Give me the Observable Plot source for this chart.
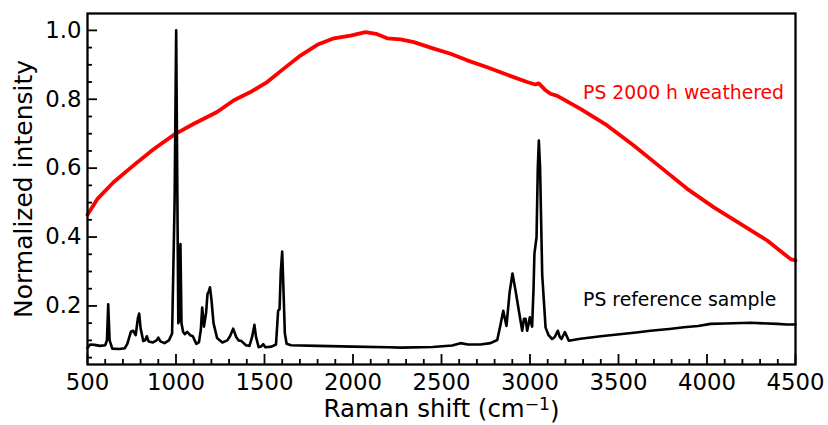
<!DOCTYPE html>
<html>
<head>
<meta charset="utf-8">
<script src="https://cdn.jsdelivr.net/npm/d3@7"></script>
<script src="https://cdn.jsdelivr.net/npm/@observablehq/plot@0.6"></script>
<style>
  html, body { margin: 0; padding: 0; background: white; }
  #chart { width: 828px; height: 425px; }
</style>
</head>
<body>
<div id="chart"></div>
<script>
// Reference PS spectrum: [Raman shift (cm^-1), normalized intensity]
const referenceSpectrum = [
  [500,0.078],[515,0.088],[540,0.087],[570,0.084],[600,0.086],[610,0.1],[617,0.205],[625,0.1],
  [640,0.076],[680,0.075],[710,0.077],[725,0.09],[745,0.125],[758,0.128],[772,0.115],[785,0.165],
  [792,0.178],[800,0.135],[815,0.098],[825,0.1],[835,0.112],[845,0.097],[870,0.094],[890,0.1],
  [900,0.108],[912,0.097],[935,0.092],[960,0.1],[978,0.12],[992,0.5],[1001,1.0],[1008,0.5],
  [1013,0.15],[1018,0.16],[1025,0.38],[1031,0.15],[1040,0.125],[1050,0.118],[1063,0.125],[1080,0.115],
  [1095,0.112],[1115,0.09],[1130,0.095],[1140,0.13],[1148,0.195],[1158,0.14],[1170,0.18],[1178,0.235],
  [1184,0.24],[1192,0.254],[1200,0.22],[1212,0.15],[1232,0.107],[1262,0.094],[1290,0.1],[1305,0.112],
  [1323,0.134],[1340,0.11],[1353,0.1],[1370,0.098],[1395,0.086],[1415,0.084],[1430,0.11],[1443,0.145],
  [1452,0.11],[1467,0.08],[1480,0.082],[1493,0.089],[1505,0.08],[1540,0.082],[1565,0.088],[1577,0.186],
  [1585,0.19],[1592,0.3],[1600,0.358],[1607,0.25],[1615,0.12],[1625,0.09],[1650,0.086],[1800,0.084],
  [2000,0.082],[2200,0.08],[2270,0.079],[2450,0.081],[2560,0.085],[2607,0.092],[2650,0.088],[2720,0.088],
  [2777,0.092],[2815,0.101],[2835,0.15],[2849,0.186],[2867,0.142],[2885,0.24],[2901,0.294],[2920,0.24],
  [2937,0.186],[2956,0.128],[2966,0.163],[2975,0.163],[2984,0.128],[2993,0.15],[2999,0.167],[3012,0.14],
  [3020,0.25],[3025,0.352],[3037,0.4],[3044,0.6],[3050,0.68],[3057,0.6],[3069,0.29],[3088,0.137],
  [3105,0.115],[3125,0.104],[3140,0.11],[3157,0.128],[3168,0.11],[3178,0.104],[3197,0.124],[3210,0.11],
  [3219,0.099],[3285,0.105],[3400,0.112],[3493,0.117],[3600,0.123],[3681,0.128],[3800,0.134],[3869,0.138],
  [3950,0.142],[4020,0.148],[4100,0.149],[4246,0.151],[4397,0.148],[4450,0.146],[4500,0.146]
];

// Weathered PS spectrum (fluorescence background)
const weatheredSpectrum = [
  [500,0.465],[555,0.51],[647,0.559],[760,0.608],[873,0.655],[992,0.698],[1101,0.729],[1232,0.763],
  [1327,0.797],[1421,0.821],[1515,0.85],[1609,0.889],[1703,0.927],[1798,0.958],[1892,0.977],[1986,0.985],
  [2071,0.995],[2130,0.99],[2193,0.977],[2268,0.974],[2344,0.966],[2456,0.947],[2551,0.932],[2645,0.913],
  [2758,0.893],[2871,0.871],[2984,0.85],[3030,0.843],[3050,0.846],[3088,0.826],[3116,0.816],[3154,0.81],
  [3285,0.772],[3436,0.724],[3586,0.666],[3737,0.603],[3888,0.54],[4039,0.486],[4189,0.438],[4340,0.39],
  [4472,0.336],[4500,0.332]
];

const annotations = [
  {x: 3300, y: 0.8, text: "PS 2000 h weathered", color: "#ff0000"},
  {x: 3300, y: 0.2, text: "PS reference sample", color: "#000000"}
];

const xMajorTicks = [500, 1000, 1500, 2000, 2500, 3000, 3500, 4000, 4500];
const xMinorTicks = d3.range(600, 4500, 100).filter(v => v % 500 !== 0);
const yMajorTicks = [0.2, 0.4, 0.6, 0.8, 1.0];
const yMinorTicks = [0.05, 0.1, 0.15, 0.25, 0.3, 0.35, 0.45, 0.5, 0.55, 0.65, 0.7, 0.75, 0.85, 0.9, 0.95];

const xLabel = "Raman shift (cm−1)";
const yLabel = "Normalized intensity";

const W = 828, H = 425;
const mL = 87, mR = 33, mT = 13, mB = 61;
const plotW = W - mL - mR, plotH = H - mT - mB;

const chart = Plot.plot({
  width: W,
  height: H,
  marginLeft: mL,
  marginRight: mR,
  marginTop: mT,
  marginBottom: mB,
  style: {fontFamily: "DejaVu Sans", fontSize: "22.5px", background: "white", color: "black", overflow: "visible"},
  x: {domain: [500, 4500], label: null, axis: null},
  y: {domain: [0.03, 1.049], label: null, axis: null},
  marks: [
    Plot.line(weatheredSpectrum, {x: d => d[0], y: d => d[1], stroke: "#ff0000", strokeWidth: 3.8}),
    Plot.line(referenceSpectrum, {x: d => d[0], y: d => d[1], stroke: "#000000", strokeWidth: 2.6, strokeLinejoin: "round"}),
    Plot.text(annotations, {x: "x", y: "y", text: "text", fill: "color", textAnchor: "start", lineAnchor: "bottom", fontSize: 18.8}),
    // inward ticks
    Plot.tickX(xMinorTicks, {x: d => d, insetTop: plotH - 5, stroke: "black", strokeWidth: 1.8}),
    Plot.tickX(xMajorTicks, {x: d => d, insetTop: plotH - 10, stroke: "black", strokeWidth: 1.8}),
    Plot.tickY(yMinorTicks, {y: d => d, insetRight: plotW - 5, stroke: "black", strokeWidth: 1.8}),
    Plot.tickY(yMajorTicks, {y: d => d, insetRight: plotW - 10, stroke: "black", strokeWidth: 1.8}),
    Plot.axisX(xMajorTicks, {tickSize: 0, tickPadding: 9.5, fontSize: 22.8, tickFormat: d => String(d)}),
    Plot.axisY(yMajorTicks, {tickSize: 0, tickPadding: 6, fontSize: 22.8, tickFormat: d3.format(".1f")}),
    Plot.frame({stroke: "black", strokeWidth: 2.3}),
    Plot.text([xLabel], {frameAnchor: "bottom", lineAnchor: "bottom", dy: 52, fontSize: 24.5, className: "xlabel"}),
    Plot.text([yLabel], {frameAnchor: "left", rotate: -90, lineAnchor: "bottom", dx: -55.3, fontSize: 25, textAnchor: "middle"})
  ]
});

document.getElementById("chart").appendChild(chart);

// render superscript in x label
const t = d3.select(chart).select(".xlabel text");
if (!t.empty()) {
  t.text("");
  t.append("tspan").text("Raman shift (cm");
  t.append("tspan").attr("dy", "-0.36em").attr("font-size", "70%").text("−1");
  t.append("tspan").attr("dy", "0.36em").text(")");
}
</script>
</body>
</html>
